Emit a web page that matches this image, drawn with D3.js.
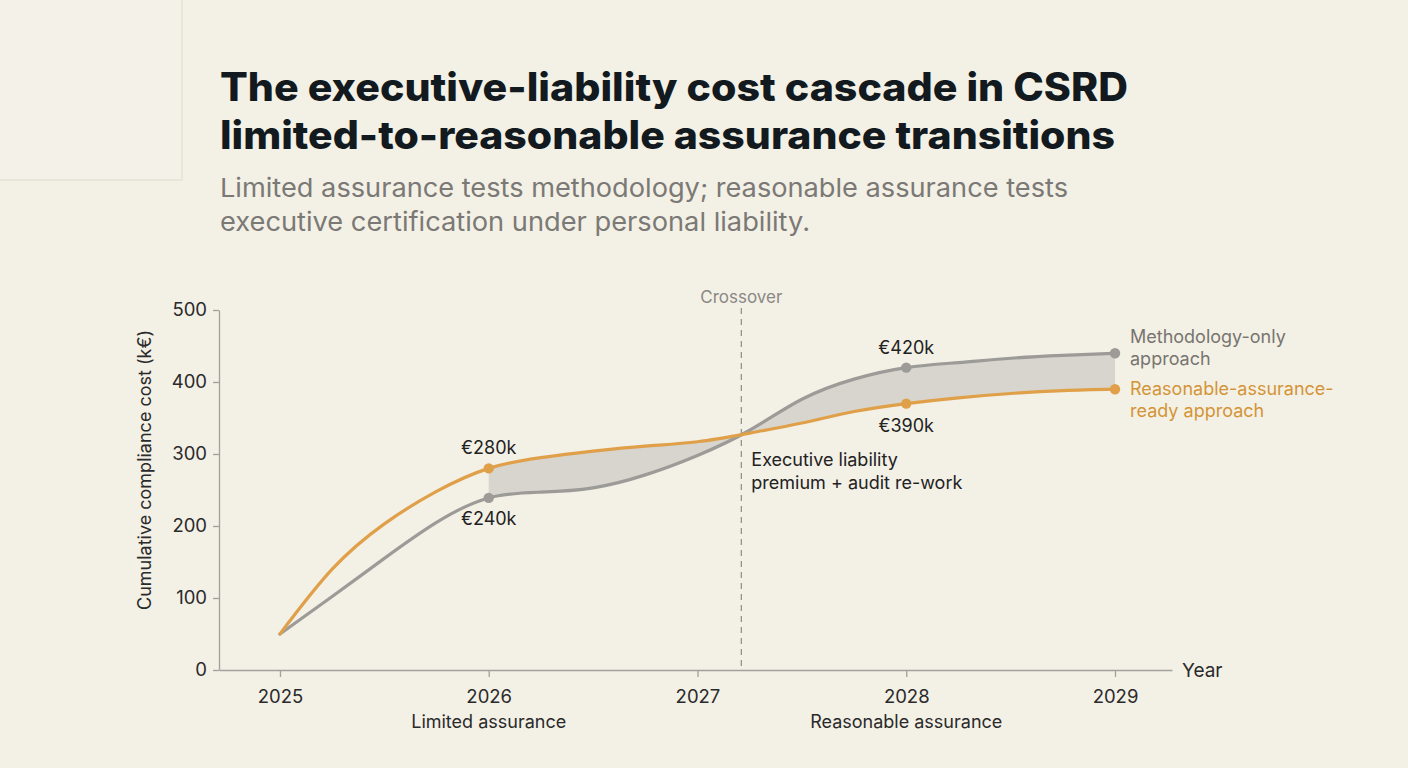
<!DOCTYPE html>
<html><head><meta charset="utf-8">
<script src="https://cdn.jsdelivr.net/npm/d3@7"></script>
<style>
html,body{margin:0;padding:0;background:#F3F0E6;}
svg{display:block;}
</style></head>
<body>
<svg id="c" width="1408" height="768"></svg>
<script>
// ---- data (values at quarter-year steps) ----
const years = [2025, 2025.25, 2025.5, 2025.75, 2026, 2026.25, 2026.5, 2026.75, 2027, 2027.25, 2027.5, 2027.75, 2028, 2028.25, 2028.5, 2028.75, 2029];
const methodologyOnly = [50, 102, 155, 205, 239, 247, 253, 271, 298, 333, 376, 404, 420, 427, 433, 437, 440];
const reasonableReady = [50, 140, 203, 248, 280, 295, 304, 311, 317, 329, 343, 359, 370, 378, 384, 388, 390];
const tickYears = [2025, 2026, 2027, 2028, 2029];
const yTicks = [0, 100, 200, 300, 400, 500];
const markerYears = [2026, 2028, 2029];
const bandStart = 2026, bandEnd = 2029;
const crossoverYear = 2027.21;
const phaseLabels = [{year: 2026, text: "Limited assurance"}, {year: 2028, text: "Reasonable assurance"}];
const valueLabels = [
  {year: 2026, value: 280, text: "€280k", pos: "above"},
  {year: 2026, value: 240, text: "€240k", pos: "below"},
  {year: 2028, value: 420, text: "€420k", pos: "above"},
  {year: 2028, value: 370, text: "€390k", pos: "below"}
];
const titleLines = ["The executive-liability cost cascade in CSRD", "limited-to-reasonable assurance transitions"];
const subtitleLines = ["Limited assurance tests methodology; reasonable assurance tests", "executive certification under personal liability."];
const legendGray = ["Methodology-only", "approach"];
const legendOrange = ["Reasonable-assurance-", "ready approach"];
const annotation = ["Executive liability", "premium + audit re-work"];

const ORANGE = "#E0A04A", GRAY = "#9C9B98", BAND = "#D4D1CA";
const FONT = "Inter, 'Noto Sans', sans-serif";

const svg = d3.select("#c");
svg.append("rect").attr("width",1408).attr("height",768).attr("fill","#F3F0E6");
svg.append("rect").attr("x",-1).attr("y",-1).attr("width",183).attr("height",181)
  .attr("fill","#F4F1E8").attr("stroke","#DDD9CD").attr("stroke-width",1);

// titles
const titleW = [908, 895];
titleLines.forEach((t,i)=>{
  svg.append("text").attr("x",220).attr("y",101+i*48).text(t)
    .attr("font-family",FONT).attr("font-weight",800).attr("font-size",39)
    .attr("fill","#121A20").attr("textLength",titleW[i]).attr("lengthAdjust","spacingAndGlyphs");
});
const subW = [848, 590];
subtitleLines.forEach((t,i)=>{
  svg.append("text").attr("x",220).attr("y",197+i*34).text(t)
    .attr("font-family",FONT).attr("font-weight",400).attr("font-size",26)
    .attr("fill","#7B7975").attr("textLength",subW[i]).attr("lengthAdjust","spacingAndGlyphs");
});

// scales
const x = d3.scaleLinear().domain([2024.708, 2029.273]).range([219, 1172]);
const y = d3.scaleLinear().domain([0, 500]).range([670, 310]);

const g = svg.append("g");

// band between series
const pts = years.map((yr,i)=>({yr, a: methodologyOnly[i], b: reasonableReady[i]}));
const curve = d3.curveNatural;
const bandPts = pts.filter(d=>d.yr>=bandStart && d.yr<=bandEnd);
g.append("path").datum(bandPts)
  .attr("d", d3.area().x(d=>x(d.yr)).y0(d=>y(d.a)).y1(d=>y(d.b)).curve(curve))
  .attr("fill", BAND).attr("opacity",0.9);

// crossover line
g.append("line").attr("x1",x(crossoverYear)).attr("x2",x(crossoverYear))
  .attr("y1",y(500)-2).attr("y2",y(0))
  .attr("stroke","#8E8C88").attr("stroke-width",1.2).attr("stroke-dasharray","6,5");
g.append("text").attr("x",x(crossoverYear)).attr("y",303).attr("text-anchor","middle")
  .text("Crossover").attr("font-family",FONT).attr("font-size",17).attr("fill","#8A8884");

// axes
const yAxis = g.append("g").attr("transform",`translate(${x.range()[0]},0)`)
  .call(d3.axisLeft(y).tickValues(yTicks).tickSize(6).tickSizeOuter(0).tickPadding(6));
const xAxis = g.append("g").attr("transform",`translate(0,${y(0)})`)
  .call(d3.axisBottom(x).tickValues(tickYears).tickFormat(d3.format("d")).tickSize(7).tickSizeOuter(0).tickPadding(8));
[yAxis,xAxis].forEach(a=>{
  a.selectAll("path,line").attr("stroke","#A3A19C").attr("stroke-width",1.3);
  a.selectAll("text").attr("font-family",FONT).attr("font-size",18.5).attr("fill","#2A2A2A");
});
xAxis.selectAll("text").attr("dy","0.95em");
svg.append("text").attr("x",1182).attr("y",677).text("Year")
  .attr("font-family",FONT).attr("font-size",19).attr("fill","#2A2A2A");
svg.append("text").attr("transform","translate(151,470) rotate(-90)").attr("text-anchor","middle")
  .text("Cumulative compliance cost (k€)").attr("font-family",FONT).attr("font-size",18).attr("fill","#2A2A2A");

phaseLabels.forEach(p=>{
  svg.append("text").attr("x",x(p.year)).attr("y",728).attr("text-anchor","middle").text(p.text)
    .attr("font-family",FONT).attr("font-size",18).attr("fill","#2A2A2A");
});

// lines
const line = key => d3.line().x(d=>x(d.yr)).y(d=>y(d[key])).curve(curve);
g.append("path").datum(pts).attr("d",line("a")).attr("fill","none").attr("stroke",GRAY).attr("stroke-width",3.2).attr("stroke-linecap","round");
g.append("path").datum(pts).attr("d",line("b")).attr("fill","none").attr("stroke",ORANGE).attr("stroke-width",3.2).attr("stroke-linecap","round");

// markers
const markers = [];
markerYears.forEach(yr=>{
  const i = years.indexOf(yr);
  markers.push({yr, v: methodologyOnly[i], c: GRAY});
  markers.push({yr, v: reasonableReady[i], c: ORANGE});
});
g.selectAll("circle.m").data(markers).join("circle").attr("class","m")
  .attr("cx",d=>x(d.yr)).attr("cy",d=>y(d.v)).attr("r",5.2).attr("fill",d=>d.c);

// value labels
valueLabels.forEach(l=>{
  svg.append("text").attr("x",x(l.year)).attr("y",y(l.value)+(l.pos==="above"?-14:28))
    .attr("text-anchor","middle").text(l.text)
    .attr("font-family",FONT).attr("font-size",18).attr("fill","#222");
});

// annotation
annotation.forEach((t,i)=>{
  svg.append("text").attr("x",x(crossoverYear)+10).attr("y",466+i*23).text(t)
    .attr("font-family",FONT).attr("font-size",18).attr("fill","#222");
});

// legend
legendGray.forEach((t,i)=>{
  svg.append("text").attr("x",1130).attr("y",343+i*22).text(t)
    .attr("font-family",FONT).attr("font-size",18).attr("fill","#77756F");
});
legendOrange.forEach((t,i)=>{
  svg.append("text").attr("x",1130).attr("y",395+i*22).text(t)
    .attr("font-family",FONT).attr("font-size",18).attr("fill","#D39536");
});
</script>
</body></html>
